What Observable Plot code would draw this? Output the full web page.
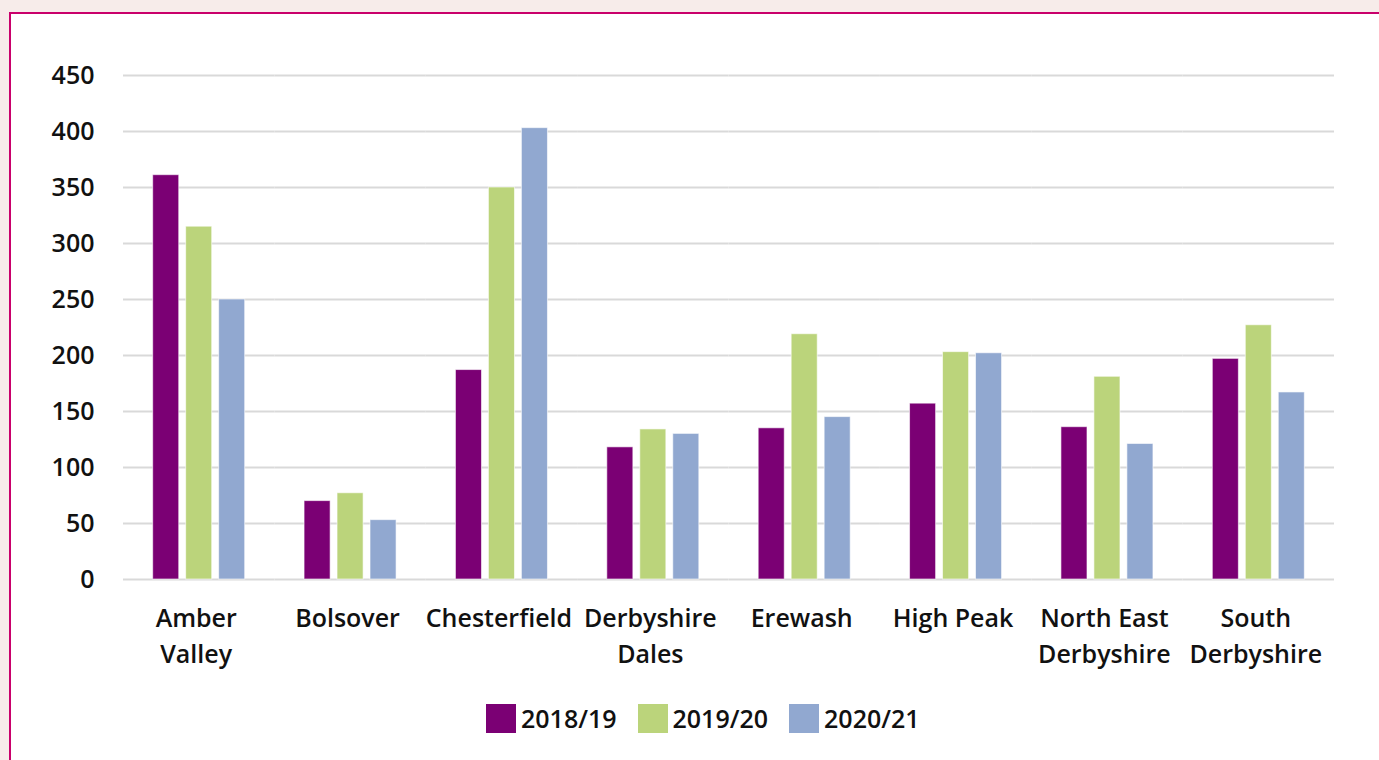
<!DOCTYPE html>
<html><head><meta charset="utf-8">
<script src="https://cdn.jsdelivr.net/npm/d3@7"></script>
<script src="https://cdn.jsdelivr.net/npm/@observablehq/plot@0.6"></script>
<style>
html,body{margin:0;padding:0;background:#f7ecea;width:1379px;height:760px;overflow:hidden;font-family:"Open Sans","Noto Sans",sans-serif;}
#frame{position:absolute;left:9px;top:12px;width:1420px;height:800px;border:2px solid #c9006b;background:#fff;box-sizing:border-box}
#chart{position:absolute;left:0;top:0}
#legend{position:absolute;left:486px;top:703px;display:flex;align-items:center;font-size:25px;color:#111;font-weight:600;line-height:30px}
#legend .item{display:flex;align-items:center;margin-right:21px}
#legend .sw{width:30px;height:29px;margin-right:5px}
</style></head>
<body>
<div id="frame"></div>
<div id="chart"></div>
<div id="legend"></div>
<script>
const districts = ["Amber Valley","Bolsover","Chesterfield","Derbyshire Dales","Erewash","High Peak","North East Derbyshire","South Derbyshire"];
const districtLabels = ["Amber\nValley","Bolsover","Chesterfield","Derbyshire\nDales","Erewash","High Peak","North East\nDerbyshire","South\nDerbyshire"];
const years = ["2018/19","2019/20","2020/21"];
const values2018 = [361,70,187,118,135,157,136,197];
const values2019 = [315,77,350,134,219,203,181,227];
const values2020 = [250,53,403,130,145,202,121,167];
const yTicks = [0,50,100,150,200,250,300,350,400,450];
const colors = ["#7b0074","#bbd47b","#91a8d0"];

const series = [values2018, values2019, values2020];
const data = [];
districts.forEach((d, i) => years.forEach((y, j) => data.push({district: d, year: y, value: series[j][i]})));

const font = "'Open Sans','Noto Sans',sans-serif";
const labelOf = d => districtLabels[districts.indexOf(d)];
const chart = Plot.plot({
  width: 1379, height: 690,
  marginLeft: 123, marginRight: 45, marginTop: 75, marginBottom: 111,
  style: {background: "transparent", fontFamily: font, fontSize: "25px", color: "#111", overflow: "visible"},
  fx: {domain: districts, padding: 0, round: false, label: null},
  x: {domain: years, paddingInner: 0.21, paddingOuter: 0.9, round: false, axis: null},
  y: {domain: [0, 450], ticks: yTicks, label: null},
  color: {domain: years, range: colors},
  marks: [
    Plot.gridY(yTicks, {stroke: "#d9d9d9", strokeWidth: 2, strokeOpacity: 1}),
    Plot.barY(data, {fx: "district", x: "year", y: "value", fill: "year", stroke: "white", strokeWidth: 1, strokeOpacity: 0.6}),
    Plot.axisY(yTicks, {tickSize: 0, tickPadding: 29, fontSize: 25, fontWeight: 600, fill: "#111", label: null}),
    Plot.axisFx({anchor: "bottom", tickFormat: labelOf, tickSize: 0, tickPadding: 22, dx: -3, lineHeight: 1.44, fontSize: 25, fontWeight: 600, fill: "#111", label: null})
  ]
});
document.getElementById("chart").appendChild(chart);

const legend = document.getElementById("legend");
years.forEach((y, i) => {
  const item = document.createElement("div");
  item.className = "item";
  const sw = document.createElement("div");
  sw.className = "sw";
  sw.style.background = colors[i];
  const t = document.createElement("span");
  t.textContent = y;
  item.appendChild(sw); item.appendChild(t);
  legend.appendChild(item);
});
</script>
</body></html>
